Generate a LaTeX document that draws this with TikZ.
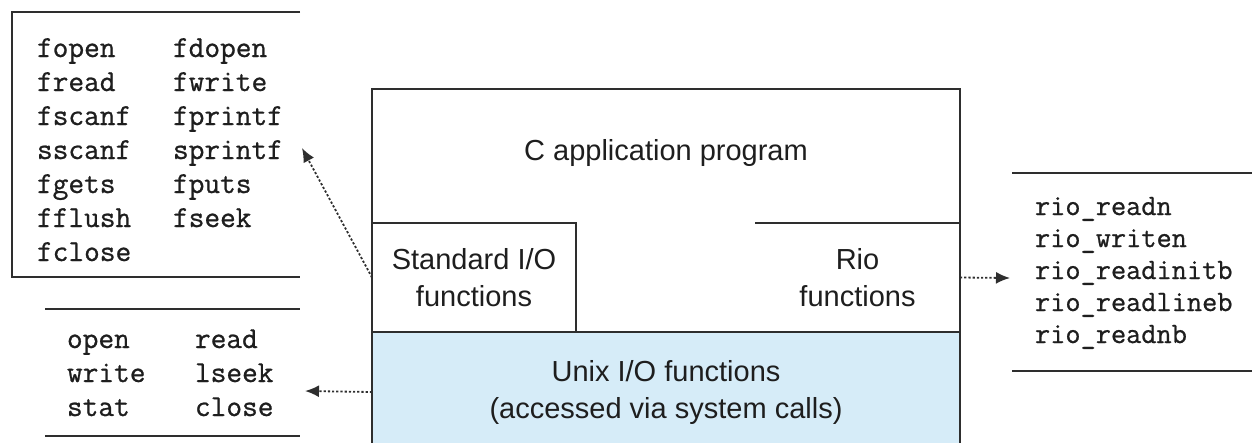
\documentclass[tikz,border=0pt]{standalone}
\usepackage{fontspec}
\setsansfont{Liberation Sans}
\newfontfamily\listtt{Latin Modern Mono}[FakeBold=0.8]
\usetikzlibrary{arrows.meta}
\definecolor{ln}{HTML}{2E2E2E}
\definecolor{txt}{HTML}{1E1E1E}
\definecolor{unixblue}{HTML}{D6ECF8}
\tikzset{
 frame/.style={draw=ln, line width=2pt},
 box/.style={inner sep=0pt, outer sep=0pt},
 lbl/.style={font=\sffamily\fontsize{29}{37}\selectfont, align=center, text=txt},
 lst/.style={font=\listtt\fontsize{30.5}{34}\selectfont, inner sep=0pt, outer sep=0pt, anchor=base west, text=txt},
 ptr/.style={draw=ln, line width=1.8pt, dash pattern=on 2.2pt off 2pt, -{Latex[length=14pt,width=12pt]}},
}
\begin{document}
\begin{tikzpicture}[x=1pt,y=-1pt]
\useasboundingbox (0,0) rectangle (1252,442);
% main stack
\node[frame, box, minimum width=588pt, minimum height=243pt] (outer) at (666,210.5) {};
\node[lbl] (app) at (666,153) {C application program};
\node[frame, box, fill=unixblue, minimum width=588pt, minimum height=120pt, lbl] (unix) at (666,392)
  {Unix I/O functions\\(accessed via system calls)};
\node[frame, box, minimum width=204pt, minimum height=109pt, lbl] (stdio) at (474,277.5)
  {Standard I/O\\functions};
\node[box, minimum width=205pt, minimum height=109pt, lbl] (rio) at (857.5,277.5)
  {Rio\\functions};
\draw[frame] (rio.north west) -- (rio.north east);
% standard I/O list
\draw[frame] (300,12) -| (12,277) -- (300,277);
\node[lst] (stdlist) at (37,57) {\begin{tabular}[t]{@{}p{136pt}@{}l@{}}
fopen & fdopen\\ fread & fwrite\\ fscanf & fprintf\\ sscanf & sprintf\\
fgets & fputs\\ fflush & fseek\\ fclose & \end{tabular}};
% unix list
\draw[frame] (45,309) -- (300,309);
\draw[frame] (45,436) -- (300,436);
\node[lst] (unixlist) at (67,348) {\begin{tabular}[t]{@{}p{128pt}@{}l@{}}
open & read\\ write & lseek\\ stat & close\end{tabular}};
% rio list
\draw[frame] (1012,173) -- (1252,173);
\draw[frame] (1012,371) -- (1252,371);
\node[lst, font=\listtt\fontsize{29.5}{32}\selectfont] (riolist) at (1035,215) {\begin{tabular}[t]{@{}l@{}}
rio\_readn\\ rio\_writen\\ rio\_readinitb\\ rio\_readlineb\\ rio\_readnb\end{tabular}};
% pointers
\coordinate (stdtip) at (302,148);
\coordinate (unixtip) at (305,391);
\coordinate (riotip) at (1010,278);
\draw[ptr] (stdio.west) -- (stdtip);
\draw[ptr] (unix.west) -- (unixtip);
\draw[ptr] (rio.east) -- (riotip);
\end{tikzpicture}
\end{document}
